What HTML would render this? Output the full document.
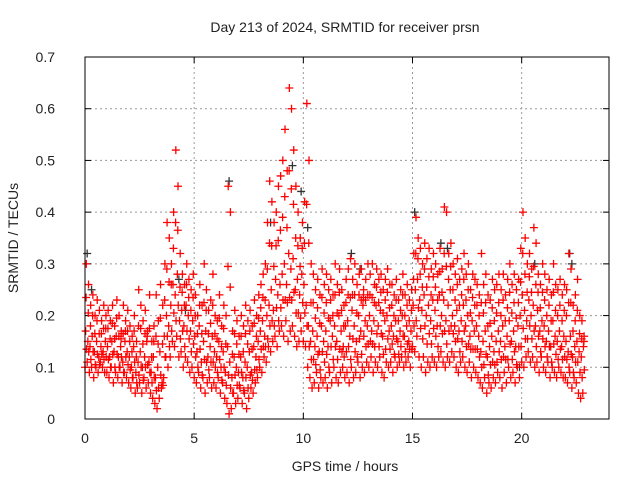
<!DOCTYPE html>
<html><head><meta charset="utf-8"><style>
body{margin:0;background:#fff;}
svg text{font-family:"Liberation Sans",sans-serif;font-size:14px;fill:#222;}
</style></head><body>
<svg id="chart" width="640" height="480" viewBox="0 0 640 480" xmlns="http://www.w3.org/2000/svg">
<rect width="640" height="480" fill="#fff"/>
<text x="345" y="32" text-anchor="middle">Day 213 of 2024, SRMTID for receiver prsn</text>
<text transform="translate(18,238) rotate(-90)" text-anchor="middle">SRMTID / TECUs</text>
<text x="345" y="471" text-anchor="middle">GPS time / hours</text>
<g id="grid"></g>
<g id="ticks"></g>
<g id="marks"></g>
<rect x="85" y="57" width="524" height="362" fill="none" stroke="#000" stroke-width="1"/>
</svg>
<script>
const xTicks=[0,5,10,15,20];
const yTicks=[0,0.1,0.2,0.3,0.4,0.5,0.6,0.7];
const yTickLabels=["0","0.1","0.2","0.3","0.4","0.5","0.6","0.7"];
const tStep=0.1;
const midVals=[.17,.15,.14,.16,.13,.15,.12,.14,.13,.15,.14,.12,.15,.13,.16,.12,.14,.11,.15,.13,.12,.10,.14,.09,.11,.13,.10,.12,.15,.11,.09,.12,.08,.10,.13,.07,.16,.20,.18,.22,.26,.24,.28,.19,.21,.18,.22,.20,.17,.19,.16,.13,.18,.11,.15,.17,.12,.14,.16,.13,.12,.15,.10,.13,.09,.14,.11,.08,.12,.10,.09,.12,.08,.11,.10,.13,.09,.14,.12,.15,.17,.19,.16,.20,.22,.25,.21,.27,.24,.26,.28,.30,.26,.32,.29,.31,.25,.27,.24,.28,.26,.22,.18,.15,.17,.14,.16,.13,.18,.15,.17,.14,.19,.16,.18,.15,.20,.17,.14,.18,.19,.16,.21,.18,.15,.20,.17,.22,.19,.18,.20,.17,.19,.22,.18,.21,.16,.19,.20,.17,.18,.16,.19,.15,.17,.20,.16,.18,.15,.17,.22,.25,.27,.23,.21,.24,.20,.22,.19,.23,.21,.18,.24,.20,.23,.19,.22,.25,.20,.18,.21,.17,.19,.22,.18,.20,.16,.19,.17,.18,.16,.13,.15,.17,.12,.14,.16,.13,.15,.17,.15,.18,.14,.16,.19,.15,.17,.14,.18,.20,.24,.21,.19,.23,.20,.22,.18,.21,.17,.19,.18,.15,.17,.14,.19,.16,.15,.17,.14,.16,.15,.13,.16,.12,.14,.15,.13,.12,.14];
const hiVals=[.30,.26,.22,.24,.20,.23,.21,.19,.22,.20,.21,.19,.22,.18,.23,.20,.17,.22,.19,.21,.18,.16,.20,.15,.25,.22,.19,.21,.17,.24,.15,.18,.24,.19,.26,.22,.30,.38,.35,.30,.40,.52,.45,.32,.28,.26,.30,.27,.25,.28,.24,.20,.26,.22,.30,.25,.21,.23,.28,.20,.19,.24,.18,.22,.20,.45,.40,.17,.21,.19,.16,.20,.18,.22,.19,.21,.18,.23,.20,.24,.26,.28,.30,.38,.46,.42,.38,.40,.45,.47,.50,.56,.48,.64,.60,.52,.45,.40,.35,.38,.42,.61,.50,.30,.28,.25,.27,.24,.29,.26,.28,.25,.27,.24,.30,.26,.29,.25,.22,.27,.29,.31,.27,.30,.26,.28,.29,.25,.27,.30,.28,.30,.26,.29,.27,.28,.25,.27,.29,.26,.26,.24,.27,.23,.25,.28,.24,.26,.23,.25,.32,.39,.35,.33,.30,.34,.31,.33,.29,.32,.30,.28,.33,.29,.41,.40,.32,.34,.30,.28,.31,.27,.29,.32,.28,.30,.25,.28,.27,.26,.24,.32,.26,.28,.24,.23,.27,.25,.26,.28,.25,.28,.24,.27,.30,.26,.28,.25,.27,.33,.40,.35,.30,.32,.29,.37,.34,.28,.26,.30,.28,.25,.27,.24,.30,.26,.25,.27,.24,.26,.25,.32,.29,.22,.24,.27,.20,.19,.16];
const loVals=[.10,.11,.09,.10,.08,.10,.09,.11,.10,.09,.09,.08,.10,.07,.09,.08,.10,.07,.09,.08,.07,.06,.08,.05,.06,.07,.05,.08,.06,.07,.05,.04,.03,.02,.04,.06,.08,.12,.10,.12,.15,.14,.16,.12,.13,.10,.12,.11,.09,.10,.08,.07,.09,.06,.08,.05,.07,.08,.06,.07,.06,.08,.05,.07,.04,.03,.01,.02,.05,.03,.04,.06,.03,.05,.02,.04,.06,.05,.07,.08,.10,.09,.12,.11,.14,.13,.15,.16,.14,.17,.18,.16,.19,.15,.17,.18,.16,.14,.15,.17,.15,.14,.10,.08,.06,.07,.09,.06,.08,.07,.08,.06,.09,.07,.10,.08,.07,.09,.10,.08,.09,.07,.10,.08,.09,.11,.08,.10,.09,.11,.10,.12,.09,.11,.10,.12,.09,.08,.11,.10,.11,.09,.12,.10,.11,.12,.10,.11,.12,.10,.14,.13,.16,.12,.10,.12,.09,.11,.10,.12,.11,.10,.12,.13,.11,.10,.12,.11,.13,.12,.10,.09,.11,.12,.10,.09,.11,.08,.10,.09,.08,.07,.06,.08,.05,.07,.06,.08,.07,.09,.08,.06,.09,.07,.10,.08,.09,.07,.10,.08,.11,.10,.12,.13,.11,.12,.10,.11,.09,.12,.10,.09,.11,.08,.10,.09,.08,.10,.09,.08,.08,.07,.09,.06,.08,.07,.05,.04,.05];
const blackT=[0.1,0.3,4.3,4.6,6.6,8.5,9.5,9.9,10.2,12.2,12.6,15.1,16.3,16.6,19.9,20.6,22.2,22.3];
const blackV=[.32,.25,.27,.21,.46,.38,.49,.44,.37,.32,.29,.40,.34,.33,.10,.30,.32,.30];
const X0=85,X1=609,Y0=419,Y1=57,XMAX=24,YMAX=0.7;
const xs=v=>X0+(X1-X0)*v/XMAX;
const ys=v=>Y0-(Y0-Y1)*v/YMAX;
const NS="http://www.w3.org/2000/svg";
const grid=document.getElementById('grid'),ticks=document.getElementById('ticks'),marks=document.getElementById('marks');
function line(p,x1,y1,x2,y2,st,da){const l=document.createElementNS(NS,'line');l.setAttribute('x1',x1);l.setAttribute('y1',y1);l.setAttribute('x2',x2);l.setAttribute('y2',y2);l.setAttribute('stroke',st);if(da)l.setAttribute('stroke-dasharray',da);p.appendChild(l);return l;}
yTicks.forEach((v,i)=>{const y=ys(v);
 if(i>0&&i<yTicks.length-1){const g=line(grid,X0,y,X1,y,'#999','2,3');
 
 }
 const tk=line(ticks,X0,y,X0+6,y,'#000');
 
 
 const tk2=line(ticks,X1,y,X1-6,y,'#000');
 
 
 const t=document.createElementNS(NS,'text');t.setAttribute('x',X0-30);t.setAttribute('y',y+5);t.setAttribute('text-anchor','end');t.textContent=yTickLabels[i];
 
 
 ticks.appendChild(t);});
xTicks.forEach(v=>{const x=xs(v);
 if(v>0){const g=line(grid,x,Y0,x,Y1,'#999','2,3');
 
 }
 const tk=line(ticks,x,Y0,x,Y0-6,'#000');
 
 
 const tk2=line(ticks,x,Y1,x,Y1+6,'#000');
 
 
 const t=document.createElementNS(NS,'text');t.setAttribute('x',x);t.setAttribute('y',Y0+24);t.setAttribute('text-anchor','middle');t.textContent=String(v);
 
 
 ticks.appendChild(t);});
function plus(x,y,c){const p=document.createElementNS(NS,'path');p.setAttribute('d',`M${x-4},${y}H${x+4}M${x},${y-4}V${y+4}`);p.setAttribute('stroke',c);p.setAttribute('stroke-width','1.3');p.setAttribute('fill','none');marks.appendChild(p);return p;}
blackT.forEach((t,i)=>{const p=plus(xs(t),ys(blackV[i]),'#333');
 
 });
[loVals,midVals,hiVals].forEach((arr,k)=>{arr.forEach((v,i)=>{const t=i*tStep+k*0.03;
 const p=plus(xs(t),ys(v),'#f00');
 
 });});
midVals.forEach((v,i)=>{const t=i*tStep+0.05;
 const p1=plus(xs(t),ys((v+hiVals[i])/2),'#f00');
 
 
 const p2=plus(xs(t+0.02),ys((v+loVals[i])/2),'#f00');
 
 });
</script>
</body></html>
